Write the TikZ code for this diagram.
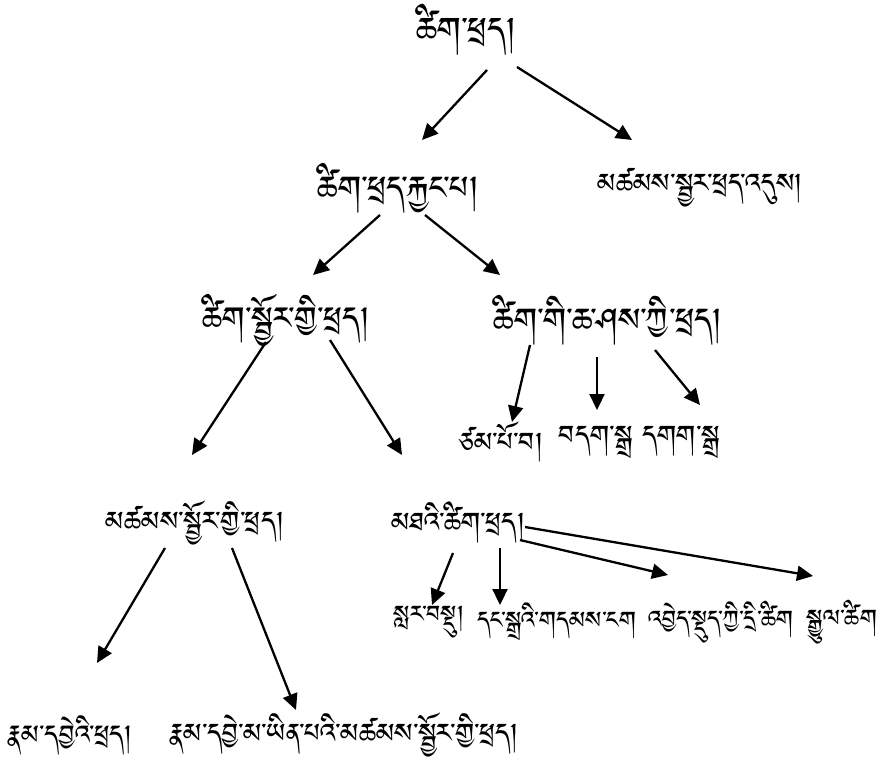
\documentclass[tikz,border=0pt]{standalone}
\usepackage{fontspec}
\usetikzlibrary{arrows.meta}
\def\tibname{DejaVu Sans}
\IfFontExistsTF{Jomolhari}{\def\tibname{Jomolhari}}{%
 \IfFontExistsTF{Tibetan Machine Uni}{\def\tibname{Tibetan Machine Uni}}{%
  \IfFontExistsTF{Noto Serif Tibetan}{\def\tibname{Noto Serif Tibetan}}{}}}
\newfontfamily\tib[Script=Tibetan]{\tibname}
\begin{document}
\begin{tikzpicture}[x=1pt,y=-1pt,
  lbl/.style={inner sep=0pt, anchor=center},
  fs/.style={lbl, font=\tib\fontsize{#1}{#1}\selectfont},
  arr/.style={line width=2.3pt, -{Triangle[length=16pt,width=15pt]}}]
\useasboundingbox (0,0) rectangle (881,765);
% nodes
\node[fs=42] (root) at (466,30) {ཚིག་ཕྲད།};
\node[fs=41] (A) at (398,188) {ཚིག་ཕྲད་རྐྱང་པ།};
\node[fs=34] (B) at (700,188) {མཚམས་སྦྱར་ཕྲད་འདུས།};
\node[fs=40] (C) at (286,320) {ཚིག་སྦྱོར་གྱི་ཕྲད།};
\node[fs=41] (D) at (608,320) {ཚིག་གི་ཆ་ཤས་ཀྱི་ཕྲད།};
\node[fs=34] (D1) at (501,442) {ཙམ་པོ་བ།};
\node[fs=34] (D2) at (596,442) {བདག་སྒྲ};
\node[fs=34] (D3) at (681,442) {དགག་སྒྲ};
\node[fs=34] (F) at (195,523) {མཚམས་སྦྱོར་གྱི་ཕྲད།};
\node[fs=34] (G) at (458,523) {མཐའི་ཚིག་ཕྲད།};
\node[fs=30] (G1) at (429,622) {སླར་བསྡུ།};
\node[fs=30] (G2) at (557,622) {དང་སྒྲའི་གདམས་ངག};
\node[fs=30] (G3) at (721,622) {འབྱེད་སྡུད་ཀྱི་དྲི་ཚིག};
\node[fs=30] (G4) at (842,622) {སྒྱུལ་ཚིག};
\node[fs=33] (F1) at (70,735) {རྣམ་དབྱེའི་ཕྲད།};
\node[fs=34] (F2) at (344,735) {རྣམ་དབྱེ་མ་ཡིན་པའི་མཚམས་སྦྱོར་གྱི་ཕྲད།};
% arrows
\draw[arr] ([shift={(21,40)}]root.center) -- ([shift={(24,-48)}]A.center);
\draw[arr] ([shift={(51,37)}]root.center) -- ([shift={(-68,-48)}]B.center);
\draw[arr] ([shift={(-18,27)}]A.center) -- ([shift={(27,-45)}]C.center);
\draw[arr] ([shift={(27,27)}]A.center) -- ([shift={(-108,-45)}]D.center);
\draw[arr] ([shift={(-20,22)}]C.center) -- ([shift={(-3,-68)}]F.center);
\draw[arr] ([shift={(44,20)}]C.center) -- ([shift={(-56,-68)}]G.center);
\draw[arr] ([shift={(-78,25)}]D.center) -- ([shift={(11,-20)}]D1.center);
\draw[arr] ([shift={(-11,37)}]D.center) -- ([shift={(1,-32)}]D2.center);
\draw[arr] ([shift={(47,30)}]D.center) -- ([shift={(19,-37)}]D3.center);
\draw[arr] ([shift={(-30,25)}]F.center) -- ([shift={(27,-72)}]F1.center);
\draw[arr] ([shift={(37,25)}]F.center) -- ([shift={(-48,-25)}]F2.center);
\draw[arr] ([shift={(-5,30)}]G.center) -- ([shift={(3,-17)}]G1.center);
\draw[arr] ([shift={(42,25)}]G.center) -- ([shift={(-57,-17)}]G2.center);
\draw[arr] ([shift={(62,17)}]G.center) -- ([shift={(-53,-47)}]G3.center);
\draw[arr] ([shift={(67,4)}]G.center) -- ([shift={(-29,-46)}]G4.center);
\end{tikzpicture}
\end{document}
